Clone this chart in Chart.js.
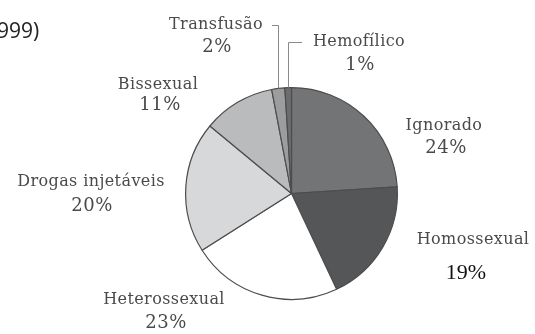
<!DOCTYPE html>
<html>
<head>
<meta charset="utf-8">
<script src="https://cdn.jsdelivr.net/npm/chart.js@4"></script>
<style>
  html, body { margin: 0; padding: 0; background: #fff; }
  canvas { display: block; }
</style>
</head>
<body>
<canvas id="pie" width="535" height="334"></canvas>
<script>
/* ── Data ─────────────────────────────────────────────────── */
const categories = ['Ignorado', 'Homossexual', 'Heterossexual', 'Drogas injetáveis', 'Bissexual', 'Transfusão', 'Hemofílico'];
const values     = [24, 19, 23, 20, 11, 2, 1];
const sliceColors = ['#737476', '#555658', '#ffffff', '#d7d8da', '#babbbd', '#9c9d9f', '#6c6d6f'];

/* label centres: [name x, name y, pct x, pct y] */
const LABEL_POS = [
  [444, 126, 446, 148],
  [473, 240, 466, 273],
  [164, 300, 166, 323],
  [ 91, 182,  92, 206],
  [158,  85, 160, 105],
  [216,  25, 217,  47],
  [359,  42, 360,  65],
];

/* leader lines for the thin slices: slice index -> label end */
const LEADERS = [
  { i: 5, y: 25, tickTo: 272 },
  { i: 6, y: 42, tickTo: 302 },
];

/* ── Label plugin ─────────────────────────────────────────── */
const labelPlugin = {
  id: 'sliceLabels',
  afterDraw(chart) {
    const ctx  = chart.ctx;
    const arcs = chart.getDatasetMeta(0).data;
    ctx.save();

    // leader lines
    ctx.strokeStyle = '#8a8a8a';
    ctx.lineWidth = 1;
    LEADERS.forEach(l => {
      const a   = arcs[l.i];
      const mid = (a.startAngle + a.endAngle) / 2;
      const x   = Math.round(a.x + a.outerRadius * Math.cos(mid)) + 0.5;
      const y0  = a.y + a.outerRadius * Math.sin(mid);
      ctx.beginPath();
      ctx.moveTo(x, y0);
      ctx.lineTo(x, l.y + 0.5);
      ctx.lineTo(l.tickTo, l.y + 0.5);
      ctx.stroke();
    });

    ctx.textAlign = 'center';
    ctx.textBaseline = 'middle';
    categories.forEach((name, i) => {
      const [nx, ny, px, py] = LABEL_POS[i];
      ctx.fillStyle = '#4a4a4a';
      ctx.font = '16px "DejaVu Serif", "Liberation Serif", serif';
      ctx.letterSpacing = '0.4px';
      ctx.fillText(name, nx, ny);
      ctx.font = '18px "DejaVu Serif", "Liberation Serif", serif';
      ctx.letterSpacing = '0.5px';
      if (name === 'Homossexual') {
        ctx.fillStyle = '#111';
        ctx.font = '22px "Liberation Serif", serif';
        ctx.letterSpacing = '0px';
      }
      ctx.fillText(values[i] + '%', px, py);
    });

    // clipped title fragment at top-left
    ctx.letterSpacing = '0px';
    ctx.textAlign = 'left';
    ctx.fillStyle = '#222';
    ctx.font = '21px "Open Sans", sans-serif';
    ctx.fillText('999)', -3, 32);
    ctx.restore();
  },
};

/* ── Chart ────────────────────────────────────────────────── */
new Chart(document.getElementById('pie').getContext('2d'), {
  type: 'pie',
  data: {
    labels: categories,
    datasets: [{
      data:            values,
      backgroundColor: sliceColors,
      borderColor:     '#4d4d4d',
      borderWidth:     1.2,
    }],
  },
  options: {
    responsive: false,
    animation: false,
    layout: { padding: { top: 87, bottom: 34, left: 185, right: 137 } },
    plugins: {
      legend:  { display: false },
      tooltip: { enabled: false },
    },
  },
  plugins: [labelPlugin],
});
</script>
</body>
</html>
